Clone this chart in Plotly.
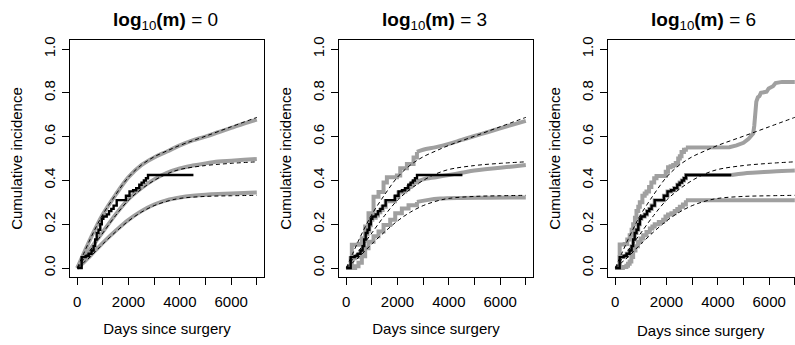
import plotly.graph_objects as go

# ---- shared observed estimate (step function) ----
km_days = [0, 175, 330, 450, 560, 640, 700, 760, 830, 900, 960, 1020, 1150, 1240, 1330,
           1420, 1540, 1900, 2040, 2180, 2300, 2420, 2510, 2600, 2680, 2760, 4530]
km_cuminc = [0, 0.05, 0.055, 0.065, 0.08, 0.10, 0.13, 0.16, 0.175, 0.20, 0.225, 0.235, 0.245, 0.26, 0.27,
             0.285, 0.31, 0.33, 0.35, 0.355, 0.365, 0.38, 0.39, 0.40, 0.41, 0.425, 0.425]

# ---- shared reference curves (dashed) ----
ref_days = [0, 250, 500, 750, 1000, 1500, 2000, 2500, 3000, 3500, 4000, 5000, 6000, 7000]
ref_upper = [0, 0.065, 0.13, 0.19, 0.245, 0.335, 0.415, 0.47, 0.508, 0.535, 0.56, 0.602, 0.645, 0.688]
ref_middle = [0, 0.04, 0.08, 0.12, 0.16, 0.24, 0.31, 0.36, 0.40, 0.43, 0.45, 0.468, 0.478, 0.485]
ref_lower = [0, 0.025, 0.05, 0.08, 0.11, 0.165, 0.215, 0.255, 0.285, 0.305, 0.318, 0.327, 0.330, 0.332]

# ---- panel 1: log10(m) = 0 (smooth bands) ----
p1_days = [0, 250, 500, 750, 1000, 1500, 2000, 2500, 3000, 3500, 4000, 4500, 5000, 5500, 6000, 6500, 7000]
p1_upper = [0, 0.065, 0.13, 0.19, 0.245, 0.335, 0.415, 0.47, 0.505, 0.532, 0.56, 0.583, 0.60, 0.62, 0.64, 0.66, 0.678]
p1_middle = [0, 0.04, 0.085, 0.125, 0.165, 0.245, 0.315, 0.365, 0.405, 0.435, 0.455, 0.468, 0.478, 0.486, 0.49, 0.494, 0.498]
p1_lower = [0, 0.025, 0.055, 0.085, 0.115, 0.17, 0.22, 0.26, 0.29, 0.31, 0.322, 0.33, 0.335, 0.338, 0.34, 0.343, 0.345]

# ---- panel 2: log10(m) = 3 (stepped start, smooth tail) ----
p2_upper_days = [0, 220, 480, 610, 740, 870, 1066, 1260, 1456, 1586, 1976, 2106, 2366, 2626, 2757]
p2_upper = [0, 0.106, 0.11, 0.136, 0.19, 0.25, 0.325, 0.347, 0.39, 0.415, 0.423, 0.456, 0.475, 0.505, 0.53]
p2_upper_tail_days = [2757, 3000, 3500, 4000, 4500, 5000, 5500, 6000, 6500, 7000]
p2_upper_tail = [0.53, 0.54, 0.552, 0.567, 0.585, 0.603, 0.62, 0.638, 0.655, 0.672]

p2_middle_days = [0, 175, 330, 450, 560, 640, 700, 760, 830, 900, 960, 1020, 1150, 1240, 1330,
                  1420, 1540, 1900, 2040, 2180, 2300, 2420, 2510, 2600, 2760]
p2_middle = [0, 0.045, 0.05, 0.06, 0.075, 0.095, 0.125, 0.155, 0.17, 0.195, 0.22, 0.23, 0.24, 0.255, 0.265,
             0.28, 0.305, 0.325, 0.345, 0.35, 0.36, 0.37, 0.38, 0.39, 0.395]
p2_middle_tail_days = [2760, 3000, 3500, 4000, 4500, 5000, 5500, 6000, 6500, 7000]
p2_middle_tail = [0.395, 0.405, 0.415, 0.425, 0.435, 0.445, 0.452, 0.458, 0.464, 0.47]

p2_lower_days = [0, 350, 480, 610, 740, 870, 1066, 1260, 1456, 1716, 1911, 2170, 2430, 2757]
p2_lower = [0, 0.008, 0.024, 0.054, 0.09, 0.12, 0.145, 0.167, 0.197, 0.22, 0.25, 0.272, 0.287, 0.302]
p2_lower_tail_days = [2757, 3146, 3667, 4446, 5500, 7000]
p2_lower_tail = [0.302, 0.31, 0.317, 0.32, 0.321, 0.322]

# ---- panel 3: log10(m) = 6 (stepped start, tail) ----
p3_upper_days = [0, 175, 370, 470, 565, 640, 700, 770, 830, 900, 960, 1060, 1150, 1220, 1320, 1410, 1520,
                 1610, 1970, 2060, 2160, 2260, 2360, 2455, 2520, 2585, 2680, 2755]
p3_upper = [0, 0.107, 0.11, 0.13, 0.15, 0.175, 0.20, 0.23, 0.26, 0.28, 0.30, 0.33, 0.34, 0.35, 0.37, 0.39, 0.41,
            0.42, 0.44, 0.46, 0.465, 0.47, 0.48, 0.50, 0.51, 0.53, 0.54, 0.55]
p3_upper_tail_days = [2755, 4450, 4730, 5000, 5200, 5380, 5420, 5460, 5500, 5560, 5620, 5680,
                      5900, 5980, 6150, 6250, 6500, 7000]
p3_upper_tail = [0.55, 0.552, 0.56, 0.572, 0.59, 0.615, 0.65, 0.72, 0.76, 0.78, 0.785, 0.80,
                 0.805, 0.82, 0.83, 0.845, 0.85, 0.85]

p3_middle_days = km_days
p3_middle = km_cuminc
p3_middle_tail_days = [4530, 5000, 5500, 6000, 6500, 7000]
p3_middle_tail = [0.425, 0.432, 0.436, 0.44, 0.443, 0.445]

p3_lower_days = [0, 300, 436, 500, 565, 630, 700, 790, 890, 990, 1090, 1220, 1350, 1450, 1540, 1700, 1870,
                 1960, 2060, 2190, 2320, 2420, 2520, 2640, 2755]
p3_lower = [0, 0.005, 0.01, 0.02, 0.03, 0.05, 0.08, 0.10, 0.12, 0.135, 0.15, 0.165, 0.18, 0.19, 0.20, 0.21, 0.22,
            0.235, 0.245, 0.25, 0.26, 0.27, 0.28, 0.29, 0.31]
p3_lower_tail_days = [2755, 7000]
p3_lower_tail = [0.31, 0.31]

titles = ["0", "3", "6"]
x_ticks = [0, 2000, 4000, 6000]
x_tick_text = ["0", "2000", "4000", "6000"]
y_ticks = [0, 0.2, 0.4, 0.6, 0.8, 1.0]
y_tick_text = ["0.0", "0.2", "0.4", "0.6", "0.8", "1.0"]
x_title = "Days since surgery"
y_title = "Cumulative incidence"

W, H = 795, 345
GREY = "#a0a0a0"
FONT = "Liberation Sans, Arial, sans-serif"

# panel boxes in pixels (left, right); top/bottom shared
boxes = [(70, 264), (339, 533), (608, 802)]
box_top, box_bottom = 36.7, 276.0
days_per_px = 7560 / 194.0

panels = [
    [(p1_days, p1_upper, "spline"), (p1_days, p1_middle, "spline"), (p1_days, p1_lower, "spline")],
    [(p2_upper_days, p2_upper, "hv"), (p2_upper_tail_days, p2_upper_tail, "spline"),
     (p2_middle_days, p2_middle, "hv"), (p2_middle_tail_days, p2_middle_tail, "spline"),
     (p2_lower_days, p2_lower, "hv"), (p2_lower_tail_days, p2_lower_tail, "spline")],
    [(p3_upper_days, p3_upper, "hv"), (p3_upper_tail_days, p3_upper_tail, "linear"),
     (p3_middle_days, p3_middle, "hv"), (p3_middle_tail_days, p3_middle_tail, "spline"),
     (p3_lower_days, p3_lower, "hv"), (p3_lower_tail_days, p3_lower_tail, "linear")],
]

fig = go.Figure()
annotations = []
layout = {}
ydom = [(H - box_bottom) / H, (H - box_top) / H]
tickfont = dict(family=FONT, size=15, color="black")
titlefont = dict(family=FONT, size=15, color="black")

for i, (grey_lines, (bl, br)) in enumerate(zip(panels, boxes)):
    n = "" if i == 0 else str(i + 1)
    xa, ya = "x" + n, "y" + n
    right = min(br, W)
    x_end = -280 + (right - bl) * days_per_px

    for d, v, shape in grey_lines:
        fig.add_trace(go.Scatter(x=d, y=v, mode="lines", xaxis=xa, yaxis=ya,
                                 line=dict(color=GREY, width=4, shape=shape), showlegend=False,
                                 hoverinfo="skip"))
    for v in (ref_upper, ref_middle, ref_lower):
        fig.add_trace(go.Scatter(x=ref_days, y=v, mode="lines", xaxis=xa, yaxis=ya,
                                 line=dict(color="black", width=1, dash="4px,3px", shape="spline"),
                                 showlegend=False, hoverinfo="skip"))
    fig.add_trace(go.Scatter(x=km_days, y=km_cuminc, mode="lines", xaxis=xa, yaxis=ya,
                             line=dict(color="black", width=2.4, shape="hv"), showlegend=False,
                             hoverinfo="skip"))

    layout["xaxis" + n] = dict(
        domain=[bl / W, right / W], range=[-280, x_end], anchor=ya,
        tickmode="array", tickvals=x_ticks, ticktext=x_tick_text,
        ticks="outside", ticklen=7, tickwidth=1, tickcolor="black",
        minor=dict(tickmode="linear", tick0=0, dtick=1000, ticks="outside",
                   ticklen=7, tickwidth=1, tickcolor="black", showgrid=False),
        showline=True, linecolor="black", linewidth=1, mirror=True,
        showgrid=False, zeroline=False, ticklabelstandoff=4, tickfont=tickfont,
        title=dict(text=x_title if i < 2 else None, font=titlefont, standoff=14),
    )
    layout["yaxis" + n] = dict(
        domain=ydom, range=[-0.04, 1.04], anchor=xa,
        tickmode="array", tickvals=y_ticks, ticktext=y_tick_text, tickangle=-90,
        ticks="outside", ticklen=7, tickwidth=1, tickcolor="black",
        showline=True, linecolor="black", linewidth=1, mirror=(i < 2),
        showgrid=False, zeroline=False, ticklabelstandoff=1, tickfont=tickfont,
        title=dict(text=y_title, font=titlefont, standoff=14),
    )

    cx = (bl + br) / 2 - 2
    annotations.append(dict(
        text="<b>log</b><sub>10</sub><b>(m)</b> = " + titles[i],
        x=cx / W, y=(H - 17) / H, xref="paper", yref="paper",
        xanchor="center", yanchor="middle", showarrow=False,
        font=dict(family=FONT, size=19, color="black")))

# the last panel is cut at the page edge, so its x title is centred on the full box
annotations.append(dict(
    text=x_title, x=((boxes[2][0] + boxes[2][1]) / 2 - 4) / W, y=(H - 330) / H,
    xref="paper", yref="paper", xanchor="center", yanchor="middle", showarrow=False,
    font=titlefont))

fig.update_layout(
    width=W, height=H, margin=dict(l=0, r=0, t=0, b=0),
    paper_bgcolor="white", plot_bgcolor="white",
    annotations=annotations, **layout,
)

fig.write_html("out.html")
